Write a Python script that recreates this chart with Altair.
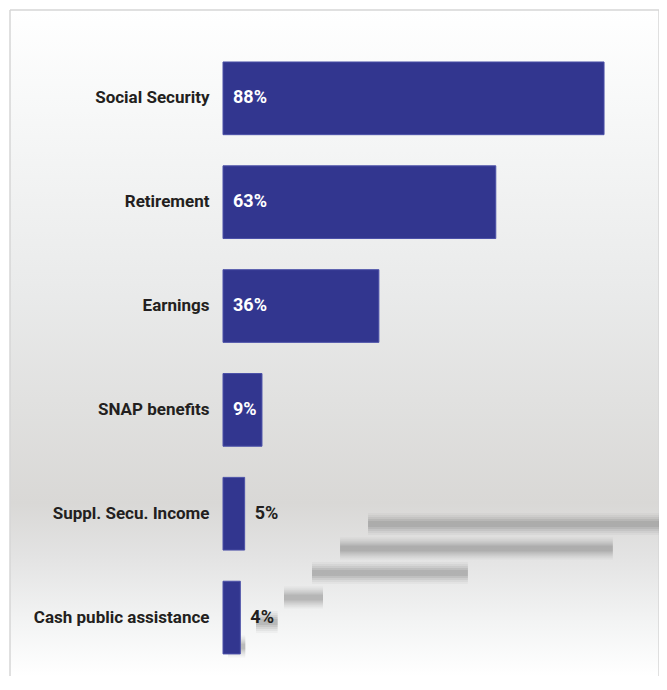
import altair as alt
import pandas as pd

# ---- data ----
categories = ["Social Security", "Retirement", "Earnings", "SNAP benefits",
              "Suppl. Secu. Income", "Cash public assistance"]
values = [88, 63, 36, 9, 5, 4]
value_labels = ["88%", "63%", "36%", "9%", "5%", "4%"]

df = pd.DataFrame({"cat": categories, "v": values, "lab": value_labels,
                   "i": list(range(len(categories)))})
one = pd.DataFrame({"a": [0]})

# ---- style ----
W, H = 649, 666
PX_PER = 4.33
ORIGIN = 213
X_DOMAIN = [-ORIGIN / PX_PER, (W - ORIGIN) / PX_PER]
Y_RANGE = [36.4, 659.5]
FONT = "Roboto, sans-serif"
BAR = "#32368f"
INK = "#231f20"
FRAME = "#d6d6d6"

xscale = alt.Scale(domain=X_DOMAIN, nice=False)
yscale = alt.Scale(range=Y_RANGE, paddingInner=0.3, paddingOuter=0.15)
y_axis = alt.Axis(title=None, offset=-ORIGIN, ticks=False, domain=False,
                  labelPadding=14, labelFont=FONT, labelFontSize=17,
                  labelFontWeight="bold", labelColor=INK, zindex=1,
                  labelLimit=400)

grad = alt.LinearGradient(
    gradient="linear", x1=0, x2=0, y1=0, y2=1,
    stops=[
        alt.GradientStop(color="#ffffff", offset=0),
        alt.GradientStop(color="#f8f9f9", offset=0.13),
        alt.GradientStop(color="#e9eaea", offset=0.43),
        alt.GradientStop(color="#d9d8d6", offset=0.74),
        alt.GradientStop(color="#e3e3e3", offset=0.82),
        alt.GradientStop(color="#f3f4f4", offset=0.92),
        alt.GradientStop(color="#ffffff", offset=1),
    ],
)

bg = alt.Chart(one).mark_rect(fill=grad).encode(
    x=alt.value(0), x2=alt.value("width"), y=alt.value(0), y2=alt.value("height")
)
top_line = alt.Chart(one).mark_rule(color=FRAME, strokeWidth=1.5).encode(
    x=alt.value(0), x2=alt.value("width"), y=alt.value(0)
)
left_line = alt.Chart(one).mark_rule(color=FRAME, strokeWidth=1.5).encode(
    x=alt.value(0), y=alt.value(0), y2=alt.value("height")
)
right_line = alt.Chart(one).mark_rule(color=FRAME, strokeWidth=1.5).encode(
    x=alt.value("width"), y=alt.value(0), y2=alt.value("height")
)

# decorative projected shadow of the bars
shadow_base = alt.Chart(df).transform_calculate(
    s0="33.5 - 6.47 * datum.i",
    s1="33.5 - 6.47 * datum.i + datum.v",
    sy="514 + 24.5 * datum.i",
)
shadow_layers = []
for sw, op in [(22, 0.06), (18, 0.08), (14, 0.10), (10, 0.13), (6, 0.17)]:
    shadow_layers.append(
        shadow_base.mark_rule(color="#707070", strokeWidth=sw, opacity=op,
                              clip=True, strokeCap="butt").encode(
            x=alt.X("s0:Q", scale=xscale, axis=None),
            x2="s1:Q",
            y=alt.Y("sy:Q", scale=alt.Scale(domain=[0, H], range=[0, H]), axis=None),
        )
    )
shadows = alt.layer(*shadow_layers)

bars = alt.Chart(df).mark_bar(color=BAR, stroke="#4c51a8", strokeWidth=1).encode(
    x=alt.X("v:Q", scale=xscale, axis=None),
    y=alt.Y("cat:N", sort=categories, scale=yscale, axis=y_axis),
)

text = alt.Chart(df).transform_calculate(
    pos="datum.v >= 9 ? 0 : datum.v"
).mark_text(align="left", baseline="middle", dx=10, font=FONT, fontSize=18,
            fontWeight="bold").encode(
    x=alt.X("pos:Q", scale=xscale, axis=None),
    y=alt.Y("cat:N", sort=categories, scale=yscale, axis=y_axis),
    text="lab:N",
    color=alt.condition("datum.v >= 9", alt.value("white"), alt.value(INK)),
)

main = alt.layer(bars, text)

chart = alt.layer(bg, top_line, left_line, right_line, shadows, main).resolve_scale(
    y="independent"
).properties(
    width=W, height=H,
    padding={"left": 2, "top": 2, "right": 0, "bottom": 0},
    autosize=alt.AutoSizeParams(type="none"),
).configure_view(stroke=None)

chart.save("out.html", embed_options={"renderer": "svg", "actions": False})
